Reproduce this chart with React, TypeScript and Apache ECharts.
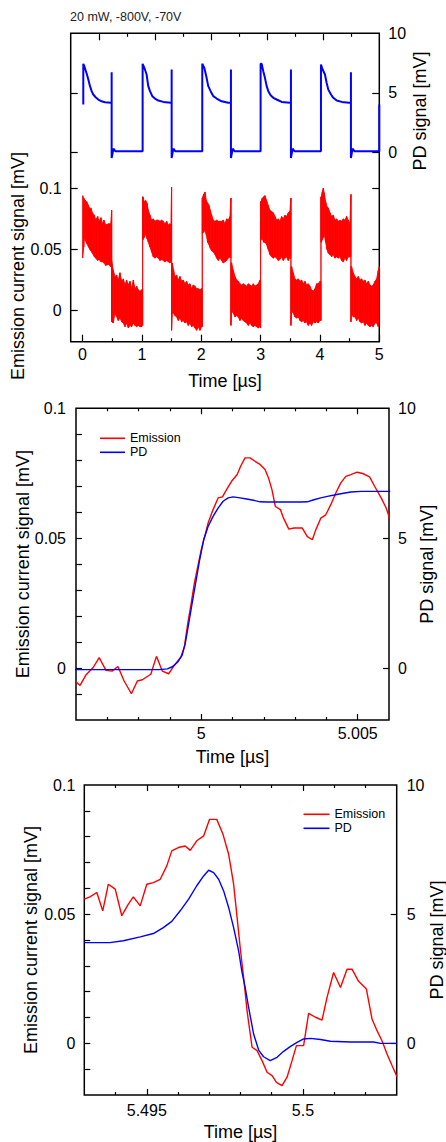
import React, { useEffect, useRef } from "react";
import * as echarts from "echarts";

// ---------- DATA ----------
const titleText = "20 mW, -800V, -70V";

// Panel 1: PD signal [mV] vs time [µs]
const pdTrace1: number[][] = [
  [0.012, 4.02], [0.012, 7.44], [0.029, 7.24], [0.052, 6.88], [0.074, 6.54], [0.097, 6.12], [0.125, 5.56],
  [0.153, 5.14], [0.18, 4.86], [0.22, 4.63], [0.265, 4.44], [0.32, 4.29], [0.377, 4.21], [0.478, 4.16],
  [0.49, 4.16], [0.49, 6.73], [0.49, -0.47], [0.52, 0.31], [0.55, 0.1],
  [1.012, 0.1], [1.012, 7.44], [1.018, 7.44], [1.051, 6.96], [1.079, 6.54], [1.107, 5.56], [1.136, 5.14],
  [1.175, 4.72], [1.22, 4.52], [1.276, 4.35], [1.36, 4.24], [1.489, 4.16],
  [1.501, 4.16], [1.501, 6.96], [1.501, -0.47], [1.53, 0.31], [1.56, 0.1],
  [2.017, 0.1], [2.017, 7.44], [2.028, 7.44], [2.051, 7.1], [2.09, 6.26], [2.118, 5.56], [2.158, 5.14],
  [2.203, 4.72], [2.259, 4.52], [2.343, 4.29], [2.455, 4.16],
  [2.5, 4.16], [2.5, 6.96], [2.5, -0.47], [2.53, 0.31], [2.56, 0.1],
  [3.0, 0.1], [3.0, 7.44], [3.017, 7.44], [3.045, 6.82], [3.073, 6.26], [3.102, 5.56], [3.13, 5.14],
  [3.169, 4.8], [3.214, 4.58], [3.27, 4.44], [3.355, 4.24], [3.494, 4.16],
  [3.511, 4.16], [3.511, 6.96], [3.511, -0.47], [3.54, 0.31], [3.57, 0.1],
  [4.017, 0.1], [4.017, 7.38], [4.028, 7.38], [4.045, 6.96], [4.084, 6.54], [4.113, 5.83], [4.141, 5.27],
  [4.186, 4.86], [4.225, 4.58], [4.282, 4.35], [4.366, 4.24], [4.49, 4.16],
  [4.522, 4.16], [4.522, 6.73], [4.522, -0.47], [4.55, 0.31], [4.58, 0.1],
  [5.0, 0.1], [5.0, 4.02],
];

// Panel 1: emission current signal [mV], noisy trace as [time, upper envelope, lower envelope]
const emissionBand1: number[][] = [
  [0.001, 0.094, 0.043], [0.02, 0.092, 0.052], [0.03, 0.091, 0.06], [0.05, 0.09, 0.057], [0.07, 0.089, 0.055],
  [0.1, 0.086, 0.052], [0.125, 0.083, 0.05], [0.14, 0.084, 0.049], [0.165, 0.08, 0.047], [0.2, 0.078, 0.044],
  [0.22, 0.074, 0.043], [0.255, 0.077, 0.041], [0.275, 0.073, 0.042], [0.31, 0.076, 0.04], [0.335, 0.071, 0.04],
  [0.36, 0.074, 0.039], [0.39, 0.07, 0.037], [0.435, 0.071, 0.038], [0.475, 0.071, 0.036], [0.49, 0.082, 0.039],
  [0.49, 0.041, -0.009], [0.518, 0.033, -0.01], [0.546, 0.028, -0.002], [0.574, 0.029, -0.005], [0.602, 0.025, -0.008],
  [0.63, 0.031, -0.006], [0.659, 0.024, -0.009], [0.687, 0.026, -0.01], [0.715, 0.021, -0.013], [0.742, 0.025, -0.01],
  [0.771, 0.021, -0.014], [0.799, 0.024, -0.012], [0.827, 0.018, -0.013], [0.855, 0.025, -0.01], [0.883, 0.018, -0.012],
  [0.911, 0.02, -0.013], [0.939, 0.017, -0.012], [0.967, 0.016, -0.013], [0.995, 0.017, -0.013], [1.012, 0.018, -0.012],
  [1.012, 0.093, 0.058], [1.018, 0.093, 0.058], [1.04, 0.089, 0.06], [1.063, 0.09, 0.063], [1.085, 0.088, 0.059],
  [1.108, 0.082, 0.056], [1.136, 0.078, 0.052], [1.164, 0.074, 0.048], [1.192, 0.075, 0.044], [1.22, 0.073, 0.043],
  [1.248, 0.074, 0.044], [1.276, 0.074, 0.043], [1.304, 0.073, 0.041], [1.332, 0.074, 0.042], [1.36, 0.073, 0.041],
  [1.388, 0.071, 0.04], [1.417, 0.073, 0.041], [1.444, 0.07, 0.04], [1.473, 0.071, 0.039], [1.489, 0.07, 0.041],
  [1.5, 0.101, 0.041],
  [1.5, 0.039, -0.016], [1.512, 0.039, -0.002], [1.534, 0.033, -0.002], [1.557, 0.028, -0.004], [1.585, 0.029, -0.005],
  [1.613, 0.025, -0.008], [1.641, 0.028, -0.006], [1.669, 0.024, -0.009], [1.697, 0.025, -0.008], [1.725, 0.022, -0.01],
  [1.753, 0.024, -0.009], [1.781, 0.021, -0.012], [1.809, 0.022, -0.01], [1.837, 0.018, -0.013], [1.866, 0.021, -0.012],
  [1.894, 0.02, -0.014], [1.922, 0.018, -0.016], [1.95, 0.018, -0.013], [1.978, 0.017, -0.016], [2.006, 0.018, -0.013],
  [2.017, 0.018, -0.013],
  [2.017, 0.092, 0.063], [2.04, 0.095, 0.064], [2.062, 0.097, 0.066], [2.085, 0.09, 0.062], [2.107, 0.088, 0.056],
  [2.13, 0.086, 0.054], [2.152, 0.082, 0.051], [2.175, 0.078, 0.049], [2.203, 0.074, 0.048], [2.231, 0.073, 0.046],
  [2.259, 0.074, 0.043], [2.287, 0.073, 0.041], [2.315, 0.073, 0.043], [2.343, 0.073, 0.041], [2.371, 0.074, 0.039],
  [2.399, 0.071, 0.04], [2.427, 0.075, 0.041], [2.455, 0.074, 0.043], [2.484, 0.077, 0.044], [2.5, 0.092, 0.043],
  [2.5, 0.039, -0.012], [2.511, 0.039, 0.0], [2.54, 0.033, -0.002], [2.568, 0.028, -0.005], [2.596, 0.025, -0.004],
  [2.624, 0.024, -0.005], [2.652, 0.022, -0.008], [2.68, 0.021, -0.006], [2.708, 0.022, -0.008], [2.736, 0.021, -0.009],
  [2.764, 0.02, -0.01], [2.793, 0.022, -0.012], [2.821, 0.021, -0.01], [2.849, 0.02, -0.012], [2.877, 0.022, -0.013],
  [2.905, 0.02, -0.012], [2.933, 0.021, -0.013], [2.961, 0.022, -0.014], [2.989, 0.025, -0.013], [3.0, 0.025, -0.014],
  [3.0, 0.089, 0.058], [3.006, 0.089, 0.058], [3.028, 0.092, 0.059], [3.051, 0.093, 0.056], [3.073, 0.094, 0.056],
  [3.101, 0.09, 0.054], [3.129, 0.086, 0.05], [3.157, 0.082, 0.046], [3.185, 0.081, 0.044], [3.214, 0.08, 0.043],
  [3.242, 0.077, 0.044], [3.27, 0.074, 0.043], [3.298, 0.075, 0.041], [3.326, 0.073, 0.042], [3.354, 0.077, 0.044],
  [3.382, 0.075, 0.041], [3.41, 0.078, 0.043], [3.438, 0.077, 0.044], [3.466, 0.08, 0.041], [3.494, 0.081, 0.043],
  [3.511, 0.092, 0.043],
  [3.511, 0.036, -0.012], [3.522, 0.036, 0.0], [3.55, 0.031, -0.002], [3.579, 0.026, -0.005], [3.607, 0.025, -0.006],
  [3.635, 0.026, -0.005], [3.663, 0.024, -0.008], [3.691, 0.025, -0.009], [3.719, 0.022, -0.008], [3.747, 0.024, -0.01],
  [3.775, 0.021, -0.009], [3.803, 0.022, -0.012], [3.831, 0.02, -0.01], [3.859, 0.017, -0.012], [3.888, 0.016, -0.009],
  [3.916, 0.018, -0.01], [3.944, 0.022, -0.009], [3.972, 0.022, -0.01], [4.0, 0.024, -0.008], [4.017, 0.024, -0.008],
  [4.017, 0.093, 0.056], [4.023, 0.093, 0.056], [4.04, 0.097, 0.058], [4.056, 0.1, 0.06], [4.073, 0.096, 0.062],
  [4.096, 0.089, 0.056], [4.118, 0.085, 0.05], [4.141, 0.084, 0.047], [4.169, 0.08, 0.046], [4.197, 0.077, 0.044],
  [4.225, 0.078, 0.046], [4.253, 0.074, 0.043], [4.281, 0.075, 0.044], [4.309, 0.073, 0.043], [4.337, 0.074, 0.044],
  [4.365, 0.073, 0.041], [4.393, 0.075, 0.04], [4.421, 0.074, 0.043], [4.449, 0.077, 0.041], [4.477, 0.074, 0.044],
  [4.506, 0.071, 0.044], [4.522, 0.095, 0.044],
  [4.522, 0.036, -0.009], [4.533, 0.036, -0.002], [4.561, 0.031, -0.005], [4.59, 0.028, -0.005], [4.618, 0.026, -0.008],
  [4.646, 0.028, -0.006], [4.674, 0.025, -0.009], [4.702, 0.026, -0.01], [4.73, 0.024, -0.009], [4.758, 0.025, -0.012],
  [4.786, 0.022, -0.01], [4.814, 0.024, -0.012], [4.843, 0.021, -0.013], [4.871, 0.02, -0.012], [4.899, 0.021, -0.013],
  [4.927, 0.024, -0.01], [4.955, 0.026, -0.01], [4.983, 0.033, -0.013], [5.0, 0.036, -0.009],
];

// Panel 2: rising edge
const emissionRise: number[][] = [
  [4.99595, -0.0048], [4.99613, -0.0067], [4.99631, -0.0028], [4.99656, 0.0004], [4.99674, 0.004], [4.99696, -0.0009],
  [4.99715, -0.0012], [4.99734, 0.0006], [4.99753, -0.0048], [4.99777, -0.0099], [4.99796, -0.005], [4.99812, -0.0045],
  [4.99839, -0.0024], [4.99857, 0.0045], [4.99876, -0.0012], [4.99896, -0.0022], [4.99914, 0.001], [4.99935, 0.0043],
  [4.99946, 0.0081], [4.99957, 0.0171], [4.99968, 0.0249], [4.99978, 0.0326], [4.99989, 0.039], [5.0, 0.0455],
  [5.00011, 0.0506], [5.00022, 0.0558], [5.00038, 0.061], [5.00054, 0.0655], [5.00068, 0.0659], [5.00081, 0.0687],
  [5.00097, 0.0719], [5.00115, 0.0745], [5.00126, 0.0777], [5.0014, 0.0809], [5.00156, 0.0809], [5.00172, 0.0796],
  [5.00188, 0.0784], [5.00204, 0.0764], [5.00215, 0.0732], [5.00226, 0.0687], [5.00237, 0.0622], [5.00253, 0.061],
  [5.00263, 0.0577], [5.0028, 0.0535], [5.00296, 0.0539], [5.00323, 0.0539], [5.00339, 0.0506], [5.00355, 0.0494],
  [5.00366, 0.0532], [5.00382, 0.0577], [5.00398, 0.059], [5.00414, 0.0629], [5.0043, 0.0674], [5.00446, 0.0713],
  [5.00462, 0.0738], [5.00478, 0.0745], [5.00498, 0.0754], [5.00516, 0.0749], [5.00538, 0.0736], [5.00554, 0.07],
  [5.00575, 0.0655], [5.00591, 0.0616], [5.00602, 0.0577],
];
const pdRise: number[][] = [
  [4.99595, -0.06], [4.99672, -0.06], [4.9978, -0.06], [4.99866, -0.06], [4.99892, -0.03], [4.99909, 0.06],
  [4.99925, 0.23], [4.99939, 0.49], [4.99949, 0.94], [4.9996, 1.71], [4.99971, 2.49], [4.99984, 3.39],
  [4.99995, 4.16], [5.00008, 4.94], [5.00022, 5.45], [5.00038, 5.84], [5.00054, 6.16], [5.0007, 6.42],
  [5.00086, 6.55], [5.00102, 6.59], [5.00124, 6.55], [5.00145, 6.51], [5.00167, 6.46], [5.00188, 6.4],
  [5.0021, 6.39], [5.00263, 6.39], [5.00317, 6.39], [5.00339, 6.4], [5.0036, 6.48], [5.00382, 6.55],
  [5.00403, 6.61], [5.00425, 6.66], [5.00446, 6.71], [5.00478, 6.78], [5.00511, 6.8], [5.00554, 6.8], [5.00604, 6.8],
];

// Panel 3: falling edge
const emissionFall: number[][] = [
  [5.493, 0.0558], [5.49318, 0.0567], [5.4934, 0.0584], [5.49359, 0.0513], [5.49377, 0.0616], [5.49399, 0.0597],
  [5.4942, 0.0494], [5.49441, 0.0539], [5.49457, 0.0567], [5.49479, 0.0532], [5.495, 0.0616], [5.49521, 0.0622],
  [5.49543, 0.0635], [5.49564, 0.0687], [5.4958, 0.0745], [5.49601, 0.0758], [5.49623, 0.0764], [5.49639, 0.0747],
  [5.4966, 0.0784], [5.49682, 0.0803], [5.49701, 0.0867], [5.49724, 0.0867], [5.49744, 0.0809], [5.49762, 0.0732],
  [5.49778, 0.0616], [5.49788, 0.05], [5.49799, 0.0371], [5.4981, 0.0255], [5.49821, 0.0126], [5.49837, -0.0015],
  [5.49853, -0.0028], [5.49869, -0.0067], [5.49885, -0.0112], [5.49901, -0.0125], [5.49915, -0.0151], [5.49933, -0.0164],
  [5.49949, -0.0131], [5.49965, -0.0067], [5.49979, -0.0009], [5.49991, -0.0009], [5.50002, -0.0009], [5.50018, 0.0116],
  [5.5004, 0.0101], [5.50061, 0.009], [5.50077, 0.0178], [5.50098, 0.0274], [5.5012, 0.0216], [5.50141, 0.0287],
  [5.50157, 0.0287], [5.50178, 0.024], [5.50203, 0.021], [5.50221, 0.0094], [5.50237, 0.0049], [5.50253, 0.001],
  [5.50269, -0.0041], [5.50285, -0.0086], [5.50301, -0.0129],
];
const pdFall: number[][] = [
  [5.493, 3.9], [5.49382, 3.9], [5.49425, 3.97], [5.49479, 4.12], [5.49521, 4.25], [5.49553, 4.48], [5.4958, 4.72],
  [5.49607, 5.13], [5.49634, 5.58], [5.4966, 6.1], [5.49682, 6.48], [5.49698, 6.7], [5.49714, 6.61], [5.4973, 6.35],
  [5.49746, 5.9], [5.49762, 5.26], [5.49778, 4.48], [5.49794, 3.58], [5.49804, 2.81], [5.49815, 2.16], [5.49826, 1.39],
  [5.49842, 0.36], [5.49858, -0.26], [5.49874, -0.52], [5.49895, -0.67], [5.49917, -0.54], [5.49938, -0.31],
  [5.49959, -0.13], [5.49981, 0.04], [5.50002, 0.17], [5.50024, 0.19], [5.50056, 0.15], [5.50088, 0.08],
  [5.50152, 0.05], [5.50226, 0.05], [5.50248, 0.0], [5.50301, 0.0],
];

// Tick values
const time1Labels = [0, 1, 2, 3, 4, 5];
const time1Minor = [0.5, 1.5, 2.5, 3.5, 4.5];
const time1TopMajor = [0, 1, 2, 3, 4];
const time1TopMinor = [0.5, 1.5, 2.5, 3.5, 4.5];
const emission1Labels = [0, 0.05, 0.1];
const pd1Labels = [0, 5, 10];
const pd1Ticks = [0, 5];

const time2Labels = [5, 5.005];
const time2Minor = [4.997, 4.998, 4.999, 5.001, 5.002, 5.003, 5.004];
const time3Labels = [5.495, 5.5];
const time3Minor = [5.494, 5.496, 5.497, 5.498, 5.499, 5.501, 5.502];
const emissionLabels = [0, 0.05, 0.1];
const emissionTicks = [-0.01, 0, 0.01, 0.02, 0.03, 0.04, 0.05, 0.06, 0.07, 0.08, 0.09];
const pdLabels = [0, 5, 10];
const pdTicks = [0, 5];

// ---------- STYLE ----------
const FONT = "'Liberation Sans', Arial, Helvetica, sans-serif";
const RED = "#ff0000";
const BLUE = "#0000ff";
const INK = "#000000";

function ax(o: any) {
  const labelVals = o.labels;
  return {
    type: "value",
    gridIndex: o.grid,
    position: o.position,
    min: o.min,
    max: o.max,
    axisLine: { show: false, onZero: false },
    splitLine: { show: false },
    axisTick: {
      show: true,
      inside: true,
      length: o.len,
      customValues: o.ticks,
      lineStyle: { color: INK, width: 1.2 },
    },
    axisLabel: labelVals
      ? {
          show: true,
          customValues: labelVals,
          fontSize: o.fontSize || 16,
          color: INK,
          fontFamily: FONT,
          margin: o.margin ?? 6,
          showMinLabel: true,
          showMaxLabel: true,
        }
      : { show: false },
    name: o.name,
    nameLocation: "middle",
    nameGap: o.nameGap,
    nameRotate: o.nameRotate,
    nameMoveOverlap: false,
    nameTextStyle: { fontSize: 18, color: INK, fontFamily: FONT },
  };
}

export default function App() {
  const ref = useRef<HTMLDivElement>(null);
  useEffect(() => {
    if (!ref.current) return;
    const chart = echarts.init(ref.current, undefined, { renderer: "svg" });
    const gridBase = {
      show: true,
      borderColor: INK,
      borderWidth: 1.5,
      backgroundColor: "transparent",
      outerBoundsMode: "none",
      containLabel: false,
    };
    const legendBase = {
      data: ["Emission", "PD"],
      orient: "vertical",
      icon: "rect",
      itemWidth: 25,
      itemHeight: 1.6,
      itemGap: 0,
      selectedMode: false,
      textStyle: { fontSize: 12.5, lineHeight: 14, color: INK, fontFamily: FONT },
    };
    const option: any = {
      animation: false,
      backgroundColor: "#ffffff",
      textStyle: { fontFamily: FONT },
      grid: [
        { ...gridBase, left: 70.7, top: 33.3, width: 308.6, height: 308.4 },
        { ...gridBase, left: 76, top: 408.3, width: 313, height: 311.7 },
        { ...gridBase, left: 84.3, top: 785, width: 312.4, height: 310 },
      ],
      xAxis: [
        ax({ grid: 0, position: "bottom", min: -0.2, max: 5, ticks: time1Labels, len: 7, labels: time1Labels, margin: 5, name: "Time [µs]", nameGap: 30 }),
        ax({ grid: 0, position: "bottom", min: -0.2, max: 5, ticks: time1Minor, len: 3.5 }),
        ax({ grid: 0, position: "top", min: -0.5, max: 5, ticks: time1TopMajor, len: 7 }),
        ax({ grid: 0, position: "top", min: -0.5, max: 5, ticks: time1TopMinor, len: 3.5 }),
        ax({ grid: 1, position: "bottom", min: 4.996, max: 5.006, ticks: time2Labels, len: 6, labels: time2Labels, margin: 5, name: "Time [µs]", nameGap: 28 }),
        ax({ grid: 1, position: "bottom", min: 4.996, max: 5.006, ticks: time2Minor, len: 3 }),
        ax({ grid: 1, position: "top", min: 4.996, max: 5.006, ticks: time2Labels, len: 6 }),
        ax({ grid: 1, position: "top", min: 4.996, max: 5.006, ticks: time2Minor, len: 3 }),
        ax({ grid: 2, position: "bottom", min: 5.493, max: 5.503, ticks: time3Labels, len: 6, labels: time3Labels, margin: 7, name: "Time [µs]", nameGap: 28 }),
        ax({ grid: 2, position: "bottom", min: 5.493, max: 5.503, ticks: time3Minor, len: 3 }),
        ax({ grid: 2, position: "top", min: 5.493, max: 5.503, ticks: time3Labels, len: 6 }),
        ax({ grid: 2, position: "top", min: 5.493, max: 5.503, ticks: time3Minor, len: 3 }),
      ],
      yAxis: [
        ax({ grid: 0, position: "left", min: -0.0253, max: 0.2266, ticks: emission1Labels, len: 7, labels: emission1Labels, margin: 9 }),
        ax({ grid: 0, position: "left", min: -15.9, max: 10, ticks: pd1Ticks, len: 7 }),
        ax({ grid: 0, position: "right", min: -15.9, max: 10, ticks: pd1Ticks, len: 7, labels: pd1Labels, margin: 9 }),
        ax({ grid: 0, position: "right", min: -0.0253, max: 0.2266, ticks: emission1Labels, len: 7 }),
        ax({ grid: 1, position: "left", min: -0.02, max: 0.1, ticks: emissionTicks, len: 6, labels: emissionLabels, margin: 10, name: "Emission current signal [mV]", nameGap: 44, nameRotate: 90 }),
        ax({ grid: 1, position: "right", min: -2, max: 10, ticks: pdTicks, len: 6, labels: pdLabels, margin: 9, name: "PD signal [mV]", nameGap: 29, nameRotate: 90 }),
        ax({ grid: 2, position: "left", min: -0.02, max: 0.1, ticks: emissionTicks, len: 6, labels: emissionLabels, margin: 9, name: "Emission current signal [mV]", nameGap: 44, nameRotate: 90 }),
        ax({ grid: 2, position: "right", min: -2, max: 10, ticks: pdTicks, len: 6, labels: pdLabels, margin: 10, name: "PD signal [mV]", nameGap: 31, nameRotate: 90 }),
      ],
      legend: [
        { ...legendBase, left: 95, top: 426.3 },
        { ...legendBase, left: 298.5, top: 802.3, itemWidth: 26 },
      ],
      graphic: [
        {
          type: "text",
          left: 70,
          top: 10,
          style: { text: titleText, fontSize: 12.5, fill: "#222222", fontFamily: FONT },
        },
        {
          type: "text",
          x: 18.3,
          y: 266,
          rotation: Math.PI / 2,
          style: { text: "Emission current signal [mV]", fontSize: 18, fill: INK, fontFamily: FONT, align: "center", verticalAlign: "middle" },
        },
        {
          type: "text",
          x: 420,
          y: 111,
          rotation: Math.PI / 2,
          style: { text: "PD signal [mV]", fontSize: 18, fill: INK, fontFamily: FONT, align: "center", verticalAlign: "middle" },
        },
      ],
      series: [
        {
          type: "custom",
          name: "emission1",
          xAxisIndex: 0,
          yAxisIndex: 0,
          data: emissionBand1,
          encode: { x: 0, y: [1, 2] },
          clip: true,
          renderItem: (params: any, api: any) => {
            const i = params.dataIndex;
            if (i >= emissionBand1.length - 1) return null;
            const a = emissionBand1[i];
            const b = emissionBand1[i + 1];
            const pts = [
              api.coord([a[0], a[1]]),
              api.coord([b[0], b[1]]),
              api.coord([b[0], b[2]]),
              api.coord([a[0], a[2]]),
            ];
            return {
              type: "polygon",
              shape: { points: pts },
              style: { fill: RED, stroke: RED, lineWidth: 0.9 },
            };
          },
        },
        {
          type: "line",
          name: "pd1",
          xAxisIndex: 0,
          yAxisIndex: 2,
          data: pdTrace1,
          symbol: "none",
          lineStyle: { color: BLUE, width: 2 },
          itemStyle: { color: BLUE },
        },
        {
          type: "line",
          name: "Emission",
          xAxisIndex: 4,
          yAxisIndex: 4,
          data: emissionRise,
          symbol: "none",
          lineStyle: { color: RED, width: 1.4 },
          itemStyle: { color: RED },
        },
        {
          type: "line",
          name: "PD",
          xAxisIndex: 4,
          yAxisIndex: 5,
          data: pdRise,
          symbol: "none",
          lineStyle: { color: BLUE, width: 1.4 },
          itemStyle: { color: BLUE },
        },
        {
          type: "line",
          name: "Emission",
          xAxisIndex: 8,
          yAxisIndex: 6,
          data: emissionFall,
          symbol: "none",
          lineStyle: { color: RED, width: 1.4 },
          itemStyle: { color: RED },
        },
        {
          type: "line",
          name: "PD",
          xAxisIndex: 8,
          yAxisIndex: 7,
          data: pdFall,
          symbol: "none",
          lineStyle: { color: BLUE, width: 1.4 },
          itemStyle: { color: BLUE },
        },
      ],
    };
    chart.setOption(option);
    return () => chart.dispose();
  }, []);
  return (
    <div
      ref={ref}
      style={{ position: "absolute", left: 0, top: 0, width: 446, height: 1142, background: "#fff" }}
    />
  );
}
